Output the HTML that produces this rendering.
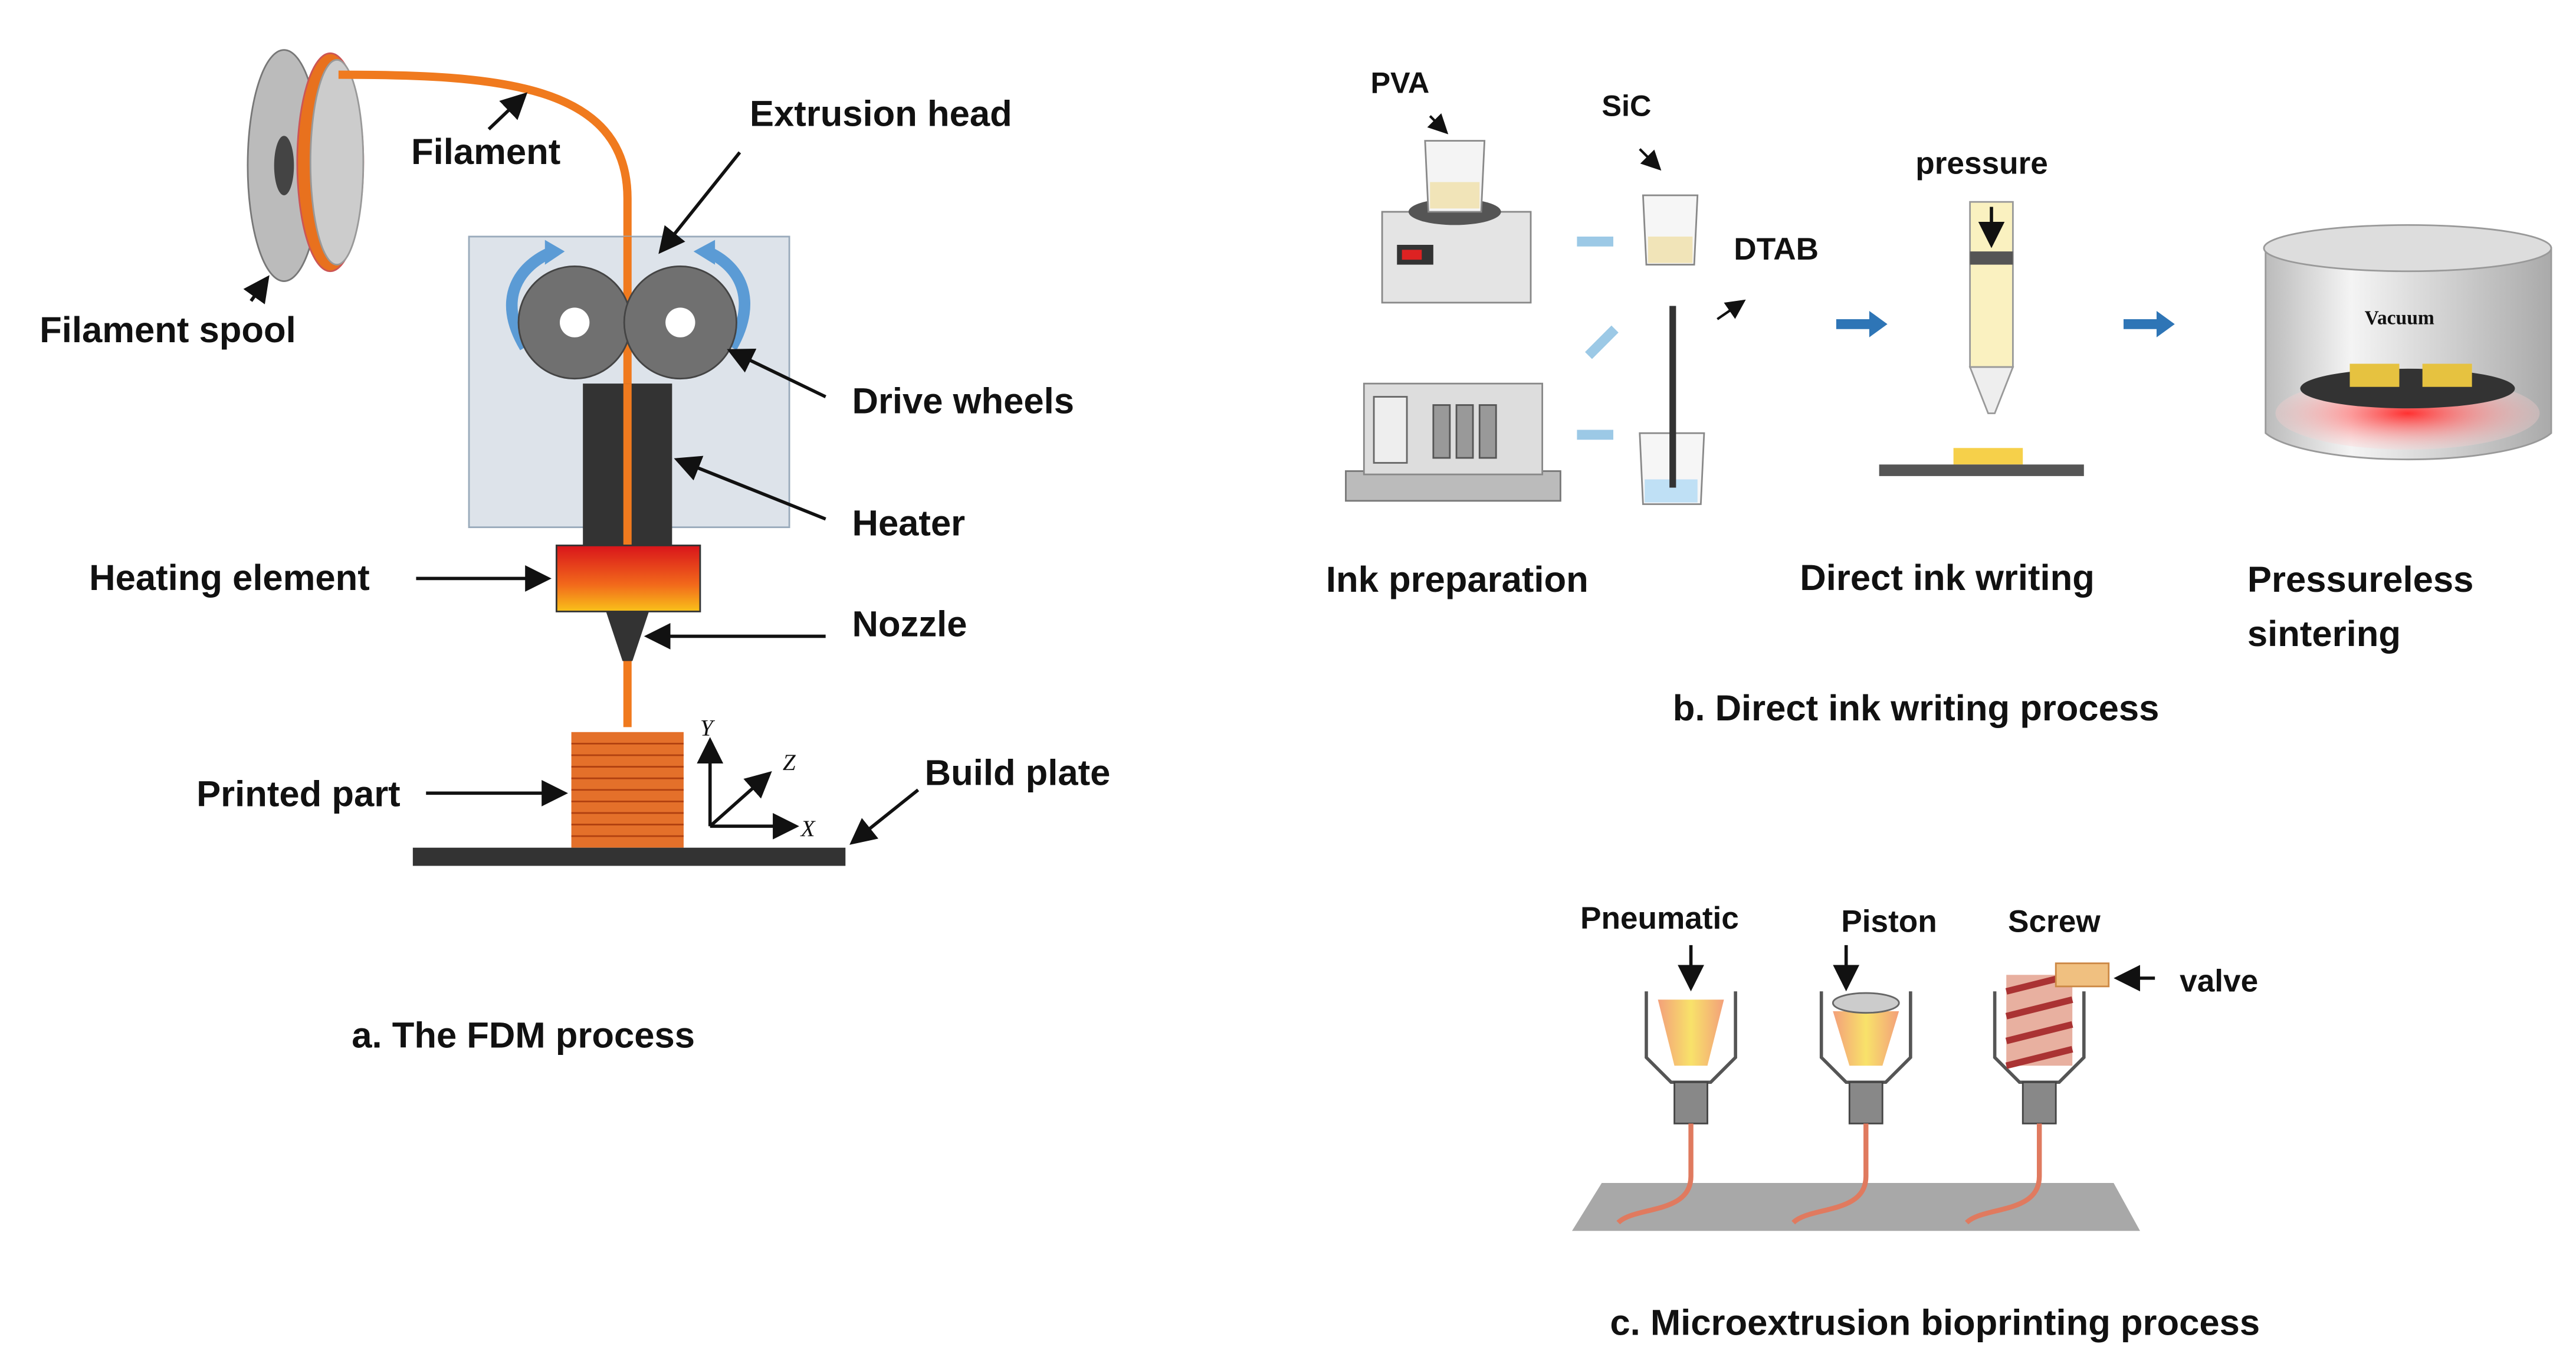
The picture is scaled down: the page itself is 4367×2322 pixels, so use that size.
<!DOCTYPE html>
<html><head><meta charset="utf-8"><style>
html,body{margin:0;padding:0;background:#fff;width:4367px;height:2322px;overflow:hidden}
svg{display:block}
text{font-family:"Liberation Sans",sans-serif;font-weight:bold;fill:#111}
</style></head><body>
<svg width="4367" height="2322" viewBox="0 0 1560 829" xmlns="http://www.w3.org/2000/svg">
<defs>
<linearGradient id="he" x1="0" y1="0" x2="0" y2="1"><stop offset="0" stop-color="#d9141b"/><stop offset="0.6" stop-color="#f26a1b"/><stop offset="1" stop-color="#f9c21a"/></linearGradient>
<linearGradient id="cup" x1="0" y1="0" x2="1" y2="0"><stop offset="0" stop-color="#f3a07a"/><stop offset="0.5" stop-color="#f8e26a"/><stop offset="1" stop-color="#f3a07a"/></linearGradient>
<linearGradient id="cyl" x1="0" y1="0" x2="1" y2="0"><stop offset="0" stop-color="#bbb"/><stop offset="0.3" stop-color="#f4f4f4"/><stop offset="1" stop-color="#aaa"/></linearGradient>
<radialGradient id="glow" cx="0.5" cy="0.5" r="0.5"><stop offset="0" stop-color="#ff3030"/><stop offset="1" stop-color="#ffd0d0" stop-opacity="0.3"/></radialGradient>
<marker id="ar" markerWidth="8" markerHeight="8" refX="7" refY="4" orient="auto"><path d="M0,0 L8,4 L0,8 z" fill="#111"/></marker>
</defs>
<!-- Panel a -->
<ellipse cx="172" cy="100" rx="22" ry="70" fill="#bbb" stroke="#777"/>
<ellipse cx="172" cy="100" rx="6" ry="18" fill="#444"/>
<ellipse cx="200" cy="98" rx="20" ry="66" fill="#e8711e" stroke="#c55"/>
<ellipse cx="204" cy="98" rx="16" ry="62" fill="#ccc" stroke="#999"/>
<path d="M205,45 C300,45 380,50 380,120 L380,440" stroke="#f07a1e" stroke-width="5" fill="none"/>
<rect x="284" y="143" width="194" height="176" fill="#dde3ea" stroke="#9ab"/>
<path d="M380,143 L380,330" stroke="#f07a1e" stroke-width="5"/>
<path d="M318,210 C300,180 315,160 335,152" stroke="#5b9bd5" stroke-width="7" fill="none"/>
<path d="M330,145 L342,152 L330,160 z" fill="#5b9bd5"/>
<path d="M443,210 C460,180 447,160 428,152" stroke="#5b9bd5" stroke-width="7" fill="none"/>
<path d="M433,145 L420,152 L433,160 z" fill="#5b9bd5"/>
<circle cx="348" cy="195" r="34" fill="#707070" stroke="#444"/><circle cx="348" cy="195" r="9" fill="#fff"/>
<circle cx="412" cy="195" r="34" fill="#707070" stroke="#444"/><circle cx="412" cy="195" r="9" fill="#fff"/>
<rect x="353" y="232" width="54" height="100" fill="#333"/>
<path d="M380,232 L380,332" stroke="#f07a1e" stroke-width="5"/>
<rect x="337" y="330" width="87" height="40" fill="url(#he)" stroke="#333"/>
<path d="M367,370 L393,370 L383,400 L377,400 z" fill="#333"/>
<rect x="346" y="443" width="68" height="70" fill="#e4702a"/>
<g stroke="#b04010" stroke-width="1">
<path d="M346,450H414M346,457H414M346,464H414M346,471H414M346,478H414M346,485H414M346,492H414M346,499H414M346,506H414"/></g>
<rect x="250" y="513" width="262" height="11" fill="#333"/>
<path d="M430,500 L430,448" stroke="#111" stroke-width="2" marker-end="url(#ar)"/>
<path d="M430,500 L482,500" stroke="#111" stroke-width="2" marker-end="url(#ar)"/>
<path d="M430,500 L466,468" stroke="#111" stroke-width="2" marker-end="url(#ar)"/>
<g font-style="italic" font-family="Liberation Serif" font-size="14"><text x="424" y="445" style="font-family:'Liberation Serif',serif;font-weight:normal">Y</text><text x="474" y="466" style="font-family:'Liberation Serif',serif;font-weight:normal">Z</text><text x="485" y="506" style="font-family:'Liberation Serif',serif;font-weight:normal">X</text></g>
<g stroke="#111" stroke-width="2" fill="none">
<path d="M296,78 L318,57" marker-end="url(#ar)"/>
<path d="M448,92 L400,152" marker-end="url(#ar)"/>
<path d="M152,182 L162,168" marker-end="url(#ar)"/>
<path d="M500,240 L442,212" marker-end="url(#ar)"/>
<path d="M500,314 L410,278" marker-end="url(#ar)"/>
<path d="M252,350 L332,350" marker-end="url(#ar)"/>
<path d="M500,385 L392,385" marker-end="url(#ar)"/>
<path d="M258,480 L342,480" marker-end="url(#ar)"/>
<path d="M556,478 L516,510" marker-end="url(#ar)"/>
</g>
<g font-size="22">
<text x="249" y="99">Filament</text>
<text x="454" y="76">Extrusion head</text>
<text x="24" y="207">Filament spool</text>
<text x="516" y="250">Drive wheels</text>
<text x="516" y="324">Heater</text>
<text x="54" y="357">Heating element</text>
<text x="516" y="385">Nozzle</text>
<text x="119" y="488">Printed part</text>
<text x="560" y="475">Build plate</text>
<text x="213" y="634">a. The FDM process</text>
</g>
<!-- Panel b -->
<rect x="837" y="128" width="90" height="55" fill="#e4e4e4" stroke="#888"/>
<rect x="846" y="148" width="22" height="12" fill="#333"/><rect x="849" y="151" width="12" height="6" fill="#d22"/>
<ellipse cx="881" cy="128" rx="28" ry="8" fill="#555"/>
<path d="M863,85 L899,85 L897,128 L865,128 z" fill="#f4f4f4" stroke="#888"/>
<rect x="866" y="110" width="30" height="16" fill="#f1e4b8"/>
<path d="M995,118 L1028,118 L1026,160 L997,160 z" fill="#f6f6f6" stroke="#888"/>
<rect x="998" y="143" width="27" height="16" fill="#f1e4b8"/>
<rect x="815" y="285" width="130" height="18" fill="#bbb" stroke="#777"/>
<rect x="826" y="232" width="108" height="55" fill="#ddd" stroke="#888"/>
<rect x="832" y="240" width="20" height="40" fill="#eee" stroke="#666"/>
<g fill="#999" stroke="#555"><rect x="868" y="245" width="10" height="32"/><rect x="882" y="245" width="10" height="32"/><rect x="896" y="245" width="10" height="32"/></g>
<path d="M993,262 L1032,262 L1030,305 L995,305 z" fill="#f6f6f6" stroke="#888"/>
<rect x="996" y="290" width="32" height="14" fill="#bfe0f5"/>
<path d="M1013,185 L1013,295" stroke="#333" stroke-width="4"/>
<g fill="#9cc9e6"><rect x="955" y="143" width="22" height="6"/><rect x="955" y="260" width="22" height="6"/></g>
<path d="M962,215 L978,199" stroke="#9cc9e6" stroke-width="6"/>
<g fill="#2e75b6"><path d="M1112,193 L1132,193 L1132,188 L1143,196 L1132,204 L1132,199 L1112,199 z"/><path d="M1286,193 L1306,193 L1306,188 L1317,196 L1306,204 L1306,199 L1286,199 z"/></g>
<path d="M1040,193 L1056,182" stroke="#111" stroke-width="1.5" marker-end="url(#ar)"/>
<path d="M993,90 L1005,102" stroke="#111" stroke-width="1.5" marker-end="url(#ar)"/>
<path d="M866,70 L876,80" stroke="#111" stroke-width="1.5" marker-end="url(#ar)"/>
<rect x="1193" y="122" width="26" height="100" fill="#faf1c0" stroke="#999"/>
<rect x="1193" y="152" width="26" height="8" fill="#555"/>
<path d="M1193,222 L1219,222 L1208,250 L1204,250 z" fill="#eee" stroke="#999"/>
<path d="M1206,125 L1206,148" stroke="#111" stroke-width="2" marker-end="url(#ar)"/>
<rect x="1183" y="271" width="42" height="10" fill="#f6d04a"/>
<rect x="1138" y="281" width="124" height="7" fill="#555"/>
<path d="M1372,150 L1372,262 A90,22 0 0 0 1545,262 L1545,150 z" fill="url(#cyl)" stroke="#999"/>
<ellipse cx="1458" cy="150" rx="87" ry="14" fill="#ddd" stroke="#999"/>
<ellipse cx="1458" cy="250" rx="80" ry="22" fill="url(#glow)"/>
<ellipse cx="1458" cy="235" rx="65" ry="12" fill="#333"/>
<rect x="1423" y="220" width="30" height="14" fill="#e6c240"/><rect x="1467" y="220" width="30" height="14" fill="#e6c240"/>
<text x="1432" y="196" font-size="12" style="font-family:'Liberation Serif',serif" fill="#222">Vacuum</text>
<g font-size="22">
<text x="830" y="56" font-size="18">PVA</text>
<text x="970" y="70" font-size="18">SiC</text>
<text x="1050" y="157" font-size="19">DTAB</text>
<text x="1160" y="105" font-size="19">pressure</text>
<text x="803" y="358">Ink preparation</text>
<text x="1090" y="357">Direct ink writing</text>
<text x="1361" y="358">Pressureless</text>
<text x="1361" y="391">sintering</text>
<text x="1013" y="436">b. Direct ink writing process</text>
</g>
<!-- Panel c -->
<path d="M970,716 L1280,716 L1296,745 L952,745 z" fill="#a8a8a8"/>
<g fill="none" stroke="#555" stroke-width="2">
<path d="M997,600 L997,640 L1012,655 L1036,655 L1051,640 L1051,600"/>
<path d="M1103,600 L1103,640 L1118,655 L1142,655 L1157,640 L1157,600"/>
<path d="M1208,600 L1208,640 L1223,655 L1247,655 L1262,640 L1262,600"/>
</g>
<path d="M1004,605 L1044,605 L1034,645 L1014,645 z" fill="url(#cup)"/>
<path d="M1110,612 L1150,612 L1140,645 L1120,645 z" fill="url(#cup)"/>
<ellipse cx="1130" cy="607" rx="20" ry="6" fill="#ccc" stroke="#666"/>
<rect x="1215" y="590" width="40" height="55" fill="#e8b0a0"/>
<path d="M1215,600 L1255,590 M1215,615 L1255,605 M1215,630 L1255,620 M1215,645 L1255,635" stroke="#a33" stroke-width="4"/>
<rect x="1245" y="583" width="32" height="14" fill="#f0c080" stroke="#c84"/>
<g fill="#888" stroke="#444"><rect x="1014" y="655" width="20" height="25"/><rect x="1120" y="655" width="20" height="25"/><rect x="1225" y="655" width="20" height="25"/></g>
<g stroke="#e07a5f" stroke-width="3" fill="none">
<path d="M1024,680 L1024,712 C1024,735 990,730 980,740"/>
<path d="M1130,680 L1130,712 C1130,735 1096,730 1086,740"/>
<path d="M1235,680 L1235,712 C1235,735 1201,730 1191,740"/>
</g>
<g stroke="#111" stroke-width="2">
<path d="M1024,572 L1024,598" marker-end="url(#ar)"/>
<path d="M1118,572 L1118,598" marker-end="url(#ar)"/>
<path d="M1305,592 L1282,592" marker-end="url(#ar)"/>
</g>
<g font-size="19">
<text x="957" y="562">Pneumatic</text>
<text x="1115" y="564">Piston</text>
<text x="1216" y="564">Screw</text>
<text x="1320" y="600">valve</text>
</g>
<text x="975" y="808" font-size="22">c. Microextrusion bioprinting process</text>
</svg>
</body></html>
